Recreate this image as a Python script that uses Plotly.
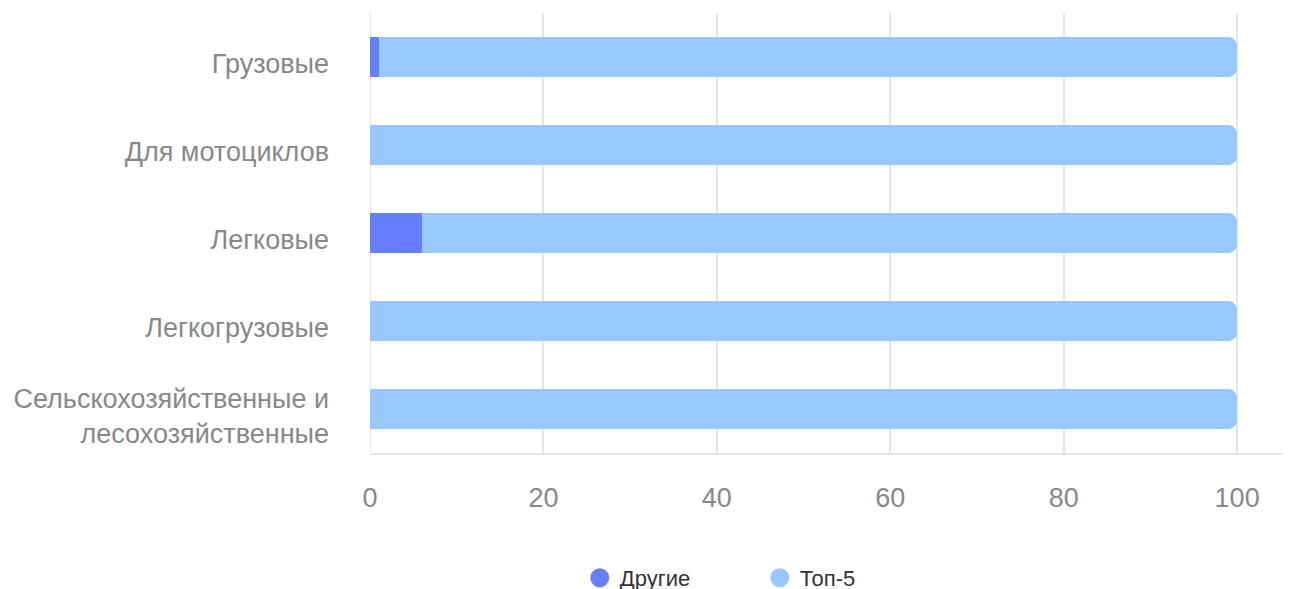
import plotly.graph_objects as go

categories = ["Грузовые", "Для мотоциклов", "Легковые", "Легкогрузовые",
              "Сельскохозяйственные и<br>лесохозяйственные"]
other_values = [1, 0, 6, 0, 0]
top5_values = [99, 100, 94, 100, 100]
x_ticks = [0, 20, 40, 60, 80, 100]

c_other = "#667fff"
c_top5 = "#98c8ff"

fig = go.Figure()
fig.add_trace(go.Bar(y=categories, x=other_values, orientation="h", name="Другие",
                     marker=dict(color=c_other, line=dict(width=0)), showlegend=False))
fig.add_trace(go.Bar(y=categories, x=top5_values, orientation="h", name="Топ-5",
                     marker=dict(color=c_top5, line=dict(width=0)), showlegend=False))
# legend entries with circle markers
fig.add_trace(go.Scatter(x=[None], y=[None], mode="markers", name="Другие",
                         marker=dict(symbol="circle", size=16, color=c_other,
                                     line=dict(color=c_other, width=3))))
fig.add_trace(go.Scatter(x=[None], y=[None], mode="markers", name="Топ-5",
                         marker=dict(symbol="circle", size=16, color=c_top5,
                                     line=dict(color=c_top5, width=3))))

font_family = "Liberation Sans, Arial, sans-serif"
fig.update_layout(
    width=1291, height=589,
    margin=dict(l=362, r=1, t=5, b=144, autoexpand=False),
    barmode="stack",
    bargap=0.545,
    barcornerradius=9,
    plot_bgcolor="white", paper_bgcolor="white",
    font=dict(family=font_family, size=27, color="#888888"),
    legend=dict(orientation="h", x=0.42, xanchor="center", y=-0.284, yanchor="middle",
                traceorder="normal",
                font=dict(size=22, color="#333333"), itemsizing="trace",
                entrywidth=135, entrywidthmode="pixels"),
    xaxis=dict(range=[0, 107.02], tickvals=x_ticks, showgrid=True, gridcolor="#e6e6e6",
               gridwidth=2, zeroline=False, showline=True, linecolor="#e6e6e6", linewidth=2,
               automargin=False,
               ticklabelstandoff=20, tickfont=dict(size=27, color="#888888")),
    yaxis=dict(categoryorder="array", categoryarray=categories, autorange="reversed",
               showgrid=False, zeroline=False, showline=False, automargin=False,
               ticklabelstandoff=40, ticklabelshift=-7,
               tickfont=dict(size=27, color="#888888")),
)
fig.add_shape(type="line", xref="x", yref="paper", x0=0, x1=0, y0=0, y1=1,
              line=dict(color="#e6e6e6", width=2), layer="below")

fig.write_html("out.html")
